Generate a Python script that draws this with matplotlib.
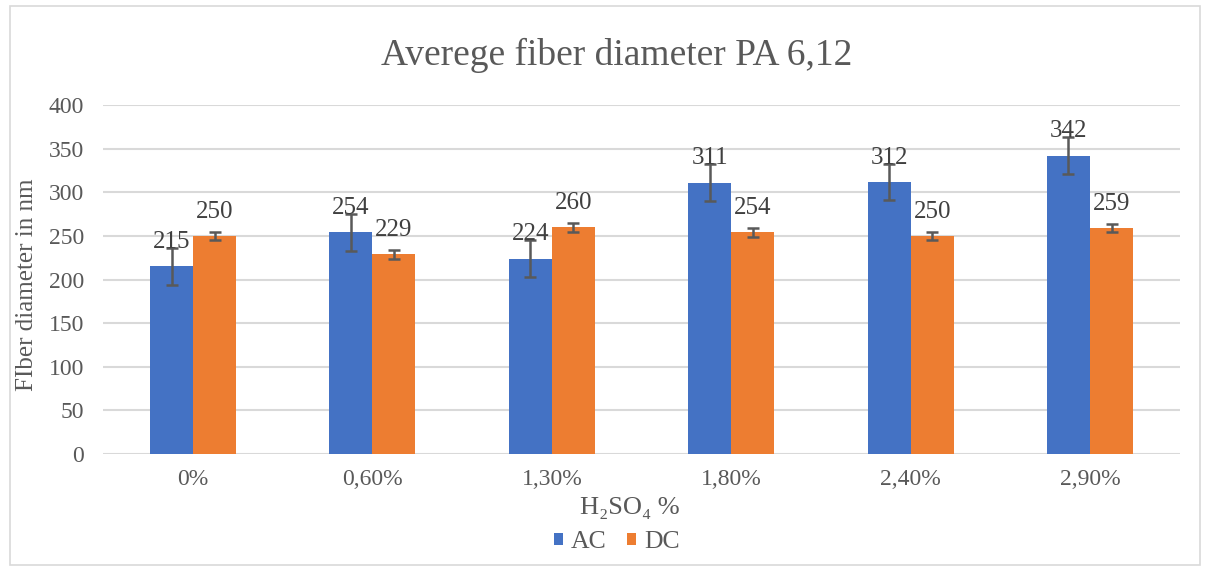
import matplotlib
matplotlib.use("Agg")
import matplotlib.pyplot as plt
import numpy as np
from matplotlib.patches import Rectangle

categories = ["0%", "0,60%", "1,30%", "1,80%", "2,40%", "2,90%"]
ac_values = [215, 254, 224, 311, 312, 342]
dc_values = [250, 229, 260, 254, 250, 259]
ac_err = [21, 21, 21, 21, 21, 21]
dc_err = [5, 5, 5, 5, 5, 5]
yticks = [0, 50, 100, 150, 200, 250, 300, 350, 400]

plt.rcParams['font.family'] = ['Liberation Serif', 'DejaVu Serif']
txt = '#595959'

fig = plt.figure(figsize=(12.06, 5.68), dpi=100)
ax = fig.add_axes([0.0857, 0.2007, 0.8925, 0.6143])

x = np.arange(len(categories))
w = 0.24
ax.bar(x - w/2, ac_values, w, color='#4472C4', label='AC', zorder=2)
ax.bar(x + w/2, dc_values, w, color='#ED7D31', label='DC', zorder=2)
ax.errorbar(x - w/2, ac_values, yerr=ac_err, fmt='none', ecolor='#595959',
            elinewidth=1.8, capsize=4, capthick=1.8, zorder=3)
ax.errorbar(x + w/2, dc_values, yerr=dc_err, fmt='none', ecolor='#595959',
            elinewidth=1.8, capsize=4, capthick=1.8, zorder=3)

for xs, vals in ((x - w/2, ac_values), (x + w/2, dc_values)):
    for xi, v in zip(xs, vals):
        ax.annotate(str(v), (xi, v), xytext=(0, 17.5), textcoords='offset points',
                    ha='center', va='center', fontsize=18, color='#404040', zorder=4)

ax.set_xlim(-0.5, len(categories) - 0.5)
ax.set_ylim(0, 400)
ax.set_yticks(yticks)
ax.set_xticks(x)
ax.set_xticklabels(categories)
ax.tick_params(axis='both', length=0, labelsize=17, colors=txt)
ax.tick_params(axis='y', pad=14)
ax.tick_params(axis='x', pad=11)
ax.yaxis.grid(True, color='#d9d9d9', linewidth=1.5, zorder=0)
ax.set_axisbelow(True)
for s in ax.spines.values():
    s.set_visible(False)

ax.set_ylabel('FIber diameter in nm', fontsize=18, color=txt)
ax.yaxis.set_label_coords(-0.0605, 0.484)
ax.text(0.489, -0.155, 'H₂SO₄ %', transform=ax.transAxes, fontsize=19, color=txt,
        ha='center', va='center')
fig.text(0.511, 1 - 65/568, 'Averege fiber diameter PA 6,12', fontsize=27, color=txt,
         ha='center', va='baseline')

ax.legend(loc='center', bbox_to_anchor=(0.477, -0.252), ncol=2, frameon=False,
          fontsize=18.5, handlelength=0.35, handleheight=0.35, handletextpad=0.3,
          columnspacing=0.8, labelcolor=txt, borderpad=0)

fig.patches.append(Rectangle((0.008, 0.005), 0.987, 0.985, transform=fig.transFigure,
                             fill=False, edgecolor='#d9d9d9', linewidth=1.2))

fig.savefig('out.png', dpi=100)
